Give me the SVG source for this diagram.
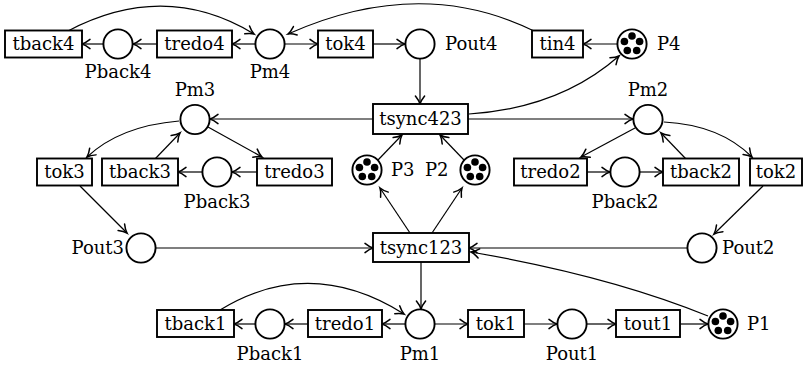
<svg xmlns="http://www.w3.org/2000/svg" xmlns:xlink="http://www.w3.org/1999/xlink" width="804" height="368" viewBox="0 0 804 368">
  <style>
    .pl { fill: #fff; stroke: #000; stroke-width: 1.9; }
    .tr { fill: #fff; stroke: #000; stroke-width: 1.9; }
    .lb { font-family: 'DejaVu Serif', 'Liberation Serif', serif; font-size: 18px; fill: #000; }
    .c { text-anchor: middle; }
    .e { text-anchor: end; }
    .arc { fill: none; stroke: #000; stroke-width: 1.2; marker-end: url(#ar); }
  </style>
  <defs>
    <marker id="ar" markerUnits="userSpaceOnUse" orient="auto" overflow="visible" markerWidth="10" markerHeight="10" refX="0" refY="0">
      <path d="M-8,-4.6 Q-3.5,-1 0,0 Q-3.5,1 -8,4.6" fill="none" stroke="#000" stroke-width="1.5" stroke-linecap="round"/>
    </marker>
    <!-- five-token marking -->
    <g id="tok5">
      <circle cx="0" cy="-8" r="3.8"/>
      <circle cx="-7.6" cy="-2.5" r="3.8"/>
      <circle cx="7.6" cy="-2.5" r="3.8"/>
      <circle cx="-4.7" cy="6.5" r="3.8"/>
      <circle cx="4.7" cy="6.5" r="3.8"/>
    </g>
  </defs>

  <!-- connectors -->
  <g id="arcs">
    <path class="arc" d="M255,44 L232,44"/>
    <path class="arc" d="M157,44 L133,44"/>
    <path class="arc" d="M103,44 L82,44"/>
    <path class="arc" d="M285,44 L318,44"/>
    <path class="arc" d="M373,44 L405,44"/>
    <path class="arc" d="M617,44 L583,44"/>
    <path class="arc" d="M68,31 Q165,-20 254,34"/>
    <path class="arc" d="M534,31 Q420,-25 288,34"/>
    <path class="arc" d="M420,59 L420,104"/>
    <path class="arc" d="M373,119 L210,119"/>
    <path class="arc" d="M468,119 L633,119"/>
    <path class="arc" d="M469,114 Q560,108 619,56"/>
    <path class="arc" d="M378,160 L402,135"/>
    <path class="arc" d="M464,160 L440,135"/>
    <path class="arc" d="M179,121 Q120,126 87,157"/>
    <path class="arc" d="M155,159 L180,133"/>
    <path class="arc" d="M208,127 L262,157"/>
    <path class="arc" d="M257,172 L232,172"/>
    <path class="arc" d="M202,172 L178,172"/>
    <path class="arc" d="M635,128 L581,157"/>
    <path class="arc" d="M686,159 L661,133"/>
    <path class="arc" d="M664,122 Q720,125 752,157"/>
    <path class="arc" d="M587,172 L610,172"/>
    <path class="arc" d="M640,172 L663,172"/>
    <path class="arc" d="M80,186 L127,233"/>
    <path class="arc" d="M763,186 L714,234"/>
    <path class="arc" d="M156,248 L373,248"/>
    <path class="arc" d="M687,248 L469,248"/>
    <path class="arc" d="M410,233 L380,188"/>
    <path class="arc" d="M432,233 L462,188"/>
    <path class="arc" d="M708,316 Q610,276 471,252"/>
    <path class="arc" d="M421,262 L421,309"/>
    <path class="arc" d="M405,324 L382,324"/>
    <path class="arc" d="M308,324 L285,324"/>
    <path class="arc" d="M255,324 L234,324"/>
    <path class="arc" d="M220,310 Q310,255 404,314"/>
    <path class="arc" d="M435,324 L468,324"/>
    <path class="arc" d="M524,324 L557,324"/>
    <path class="arc" d="M587,324 L616,324"/>
    <path class="arc" d="M680,324 L708,324"/>
  </g>

  <!-- places -->
  <g id="Pback4"><circle class="pl" cx="118" cy="44" r="14.6"/><text class="lb c" x="118" y="78">Pback4</text></g>
  <g id="Pm4"><circle class="pl" cx="270" cy="44" r="14.6"/><text class="lb c" x="270" y="78">Pm4</text></g>
  <g id="Pout4"><circle class="pl" cx="420" cy="44" r="14.6"/><text class="lb" x="445" y="50">Pout4</text></g>
  <g id="P4"><circle class="pl" cx="632" cy="44" r="14.6"/><use xlink:href="#tok5" x="632" y="44"/><text class="lb" x="657" y="50">P4</text></g>
  <g id="Pm3"><circle class="pl" cx="195" cy="119.5" r="14.6"/><text class="lb c" x="195" y="96">Pm3</text></g>
  <g id="Pback3"><circle class="pl" cx="217" cy="172" r="14.6"/><text class="lb c" x="217" y="208">Pback3</text></g>
  <g id="P3"><circle class="pl" cx="367" cy="170" r="14.6"/><use xlink:href="#tok5" x="367" y="170"/><text class="lb" x="391" y="176">P3</text></g>
  <g id="P2"><circle class="pl" cx="475" cy="170" r="14.6"/><use xlink:href="#tok5" x="475" y="170"/><text class="lb" x="425" y="176">P2</text></g>
  <g id="Pm2"><circle class="pl" cx="648" cy="119.5" r="14.6"/><text class="lb c" x="648" y="96">Pm2</text></g>
  <g id="Pback2"><circle class="pl" cx="625" cy="172" r="14.6"/><text class="lb c" x="625" y="208">Pback2</text></g>
  <g id="Pout3"><circle class="pl" cx="141" cy="248" r="14.6"/><text class="lb e" x="124" y="254">Pout3</text></g>
  <g id="Pout2"><circle class="pl" cx="702" cy="248" r="14.6"/><text class="lb" x="722" y="254">Pout2</text></g>
  <g id="Pback1"><circle class="pl" cx="270" cy="324" r="14.6"/><text class="lb c" x="270" y="360">Pback1</text></g>
  <g id="Pm1"><circle class="pl" cx="420" cy="324" r="14.6"/><text class="lb c" x="420" y="360">Pm1</text></g>
  <g id="Pout1"><circle class="pl" cx="572" cy="324" r="14.6"/><text class="lb c" x="572" y="360">Pout1</text></g>
  <g id="P1"><circle class="pl" cx="723" cy="324" r="14.6"/><use xlink:href="#tok5" x="723" y="324"/><text class="lb" x="747" y="330">P1</text></g>

  <!-- transitions -->
  <g id="tback4"><rect class="tr" x="5" y="30.5" width="77" height="27"/><text class="lb c" x="43.5" y="50">tback4</text></g>
  <g id="tredo4"><rect class="tr" x="157" y="30.5" width="75" height="27"/><text class="lb c" x="194.5" y="50">tredo4</text></g>
  <g id="tok4"><rect class="tr" x="318" y="30.5" width="55" height="27"/><text class="lb c" x="345.5" y="50">tok4</text></g>
  <g id="tin4"><rect class="tr" x="532" y="30.5" width="51" height="27"/><text class="lb c" x="557.5" y="50">tin4</text></g>
  <g id="tsync423"><rect class="tr" x="373" y="104" width="95" height="30"/><text class="lb c" x="420.5" y="125">tsync423</text></g>
  <g id="tok3"><rect class="tr" x="37" y="158.5" width="55" height="27"/><text class="lb c" x="64.5" y="178">tok3</text></g>
  <g id="tback3"><rect class="tr" x="102" y="158.5" width="76" height="27"/><text class="lb c" x="140" y="178">tback3</text></g>
  <g id="tredo3"><rect class="tr" x="257" y="158.5" width="75" height="27"/><text class="lb c" x="294.5" y="178">tredo3</text></g>
  <g id="tredo2"><rect class="tr" x="514" y="158.5" width="73" height="27"/><text class="lb c" x="550.5" y="178">tredo2</text></g>
  <g id="tback2"><rect class="tr" x="663" y="158.5" width="76" height="27"/><text class="lb c" x="701" y="178">tback2</text></g>
  <g id="tok2"><rect class="tr" x="750" y="158.5" width="52" height="27"/><text class="lb c" x="776" y="178">tok2</text></g>
  <g id="tsync123"><rect class="tr" x="373" y="233" width="96" height="29"/><text class="lb c" x="421" y="254">tsync123</text></g>
  <g id="tback1"><rect class="tr" x="157" y="310" width="77" height="27"/><text class="lb c" x="195.5" y="330">tback1</text></g>
  <g id="tredo1"><rect class="tr" x="308" y="310" width="74" height="27"/><text class="lb c" x="345" y="330">tredo1</text></g>
  <g id="tok1"><rect class="tr" x="468" y="310" width="56" height="27"/><text class="lb c" x="496" y="330">tok1</text></g>
  <g id="tout1"><rect class="tr" x="616" y="310" width="64" height="27"/><text class="lb c" x="648" y="330">tout1</text></g>
</svg>
